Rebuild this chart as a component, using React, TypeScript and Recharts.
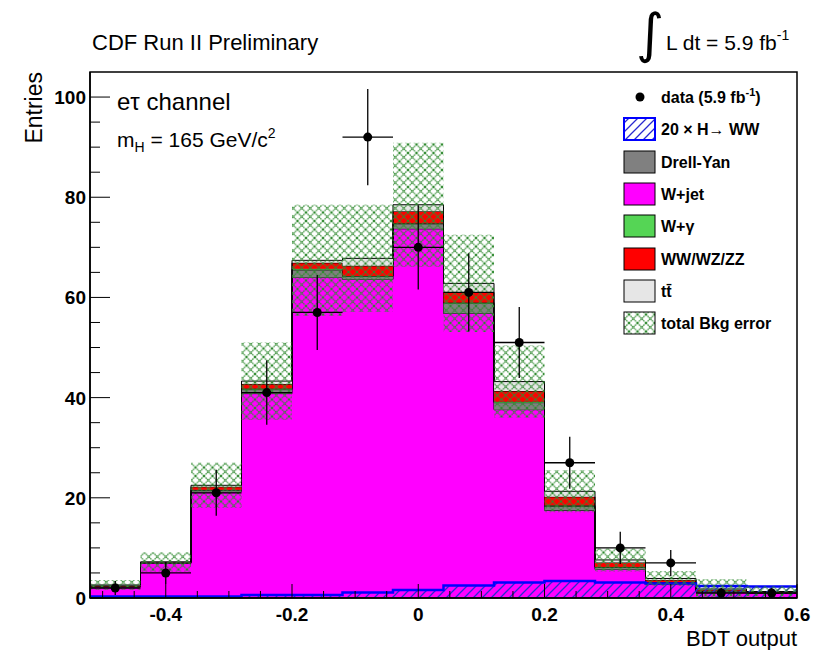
import { ComposedChart, Area, Scatter, ErrorBar, XAxis, YAxis, ReferenceArea } from "recharts";

// BDT output binning (14 bins of 0.08)
const binEdges = [-0.52, -0.44, -0.36, -0.28, -0.2, -0.12, -0.04, 0.04, 0.12, 0.2, 0.28, 0.36, 0.44, 0.52, 0.6];
const binCenters = [-0.48, -0.4, -0.32, -0.24, -0.16, -0.08, 0, 0.08, 0.16, 0.24, 0.32, 0.4, 0.48, 0.56];

// stacked backgrounds, bottom to top
const wjet = [2.2, 6.9, 21.2, 40.8, 64.0, 63.6, 73.7, 56.8, 37.6, 17.5, 5.7, 2.8, 1.2, 0.9];
const drellYan = [0.1, 0.1, 0.3, 0.8, 1.5, 0.6, 1.0, 2.0, 1.4, 0.8, 0.4, 0.3, 0.2, 0.1];
const wgamma = [0.05, 0.05, 0.1, 0.2, 0.2, 0.1, 0.1, 0.2, 0.2, 0.2, 0.1, 0.05, 0.05, 0.05];
const diboson = [0.15, 0.1, 0.6, 0.9, 1.2, 2.0, 2.4, 2.0, 2.1, 1.7, 0.9, 0.45, 0.2, 0.15];
const ttbar = [0.1, 0.05, 0.3, 0.6, 0.5, 1.5, 1.3, 1.8, 1.9, 1.1, 0.5, 0.3, 0.15, 0.1];
const bkgErr = [1.0, 1.9, 4.5, 7.7, 11.1, 10.7, 12.4, 9.7, 7.2, 4.2, 2.3, 1.5, 2.0, 1.0];

// 20 x H->WW, not stacked
const signal = [0.3, 0.3, 0.3, 0.6, 0.6, 1.1, 1.6, 2.5, 3.1, 3.4, 3.1, 2.9, 2.4, 2.3];

// data
const dataVals = [2, 5, 21, 41, 57, 92, 70, 61, 51, 27, 10, 7, 1, 1];
const dataErr = [1.4, 2.2, 4.6, 6.4, 7.5, 9.6, 8.4, 7.8, 7.1, 5.2, 3.2, 2.6, 1.0, 1.0];

const xTicks = [-0.5, -0.45, -0.4, -0.35, -0.3, -0.25, -0.2, -0.15, -0.1, -0.05, 0, 0.05, 0.1, 0.15, 0.2, 0.25, 0.3, 0.35, 0.4, 0.45, 0.5, 0.55, 0.6];
const xMajor = [-0.4, -0.2, 0, 0.2, 0.4, 0.6];
const yTicks = [0, 5, 10, 15, 20, 25, 30, 35, 40, 45, 50, 55, 60, 65, 70, 75, 80, 85, 90, 95, 100];
const yMajor = [0, 20, 40, 60, 80, 100];

const legendItems = ["data", "20 × H→ WW", "Drell-Yan", "W+jet", "W+γ", "WW/WZ/ZZ", "tt̄", "total Bkg error"];

const histRows = binEdges.map((x, i) => {
    const j = Math.min(i, binCenters.length - 1);
    const total = wjet[j] + drellYan[j] + wgamma[j] + diboson[j] + ttbar[j];
    return {
        x,
        wjet: wjet[j],
        dy: drellYan[j],
        wg: wgamma[j],
        vv: diboson[j],
        tt: ttbar[j],
        sig: signal[j],
        band: [Math.max(0, total - bkgErr[j]), total + bkgErr[j]],
    };
});

const points = binCenters.map((x, i) => ({
    x,
    y: dataVals[i],
    ey: dataErr[i],
    ex: (binEdges[i + 1] - binEdges[i]) / 2,
}));

const FONT = "'Liberation Sans', Arial, sans-serif";
const isIn = (arr: number[], v: number) => arr.some((m) => Math.abs(m - v) < 1e-6);

function XTick({ x, y, payload }: any) {
    const major = isIn(xMajor, payload.value);
    return (
        <g>
            <line x1={x} y1={y} x2={x} y2={y - (major ? 14 : 7)} stroke="#000" strokeWidth={1} />
            {major && (
                <text x={x} y={y + 23} textAnchor="middle" fontFamily={FONT} fontWeight="bold" fontSize={19} fill="#000">
                    {String(payload.value)}
                </text>
            )}
        </g>
    );
}

function YTick({ x, y, payload }: any) {
    const major = isIn(yMajor, payload.value);
    return (
        <g>
            <line x1={x} y1={y} x2={x + (major ? 20 : 10)} y2={y} stroke="#000" strokeWidth={1} />
            {major && (
                <text x={x - 4} y={y + 7} textAnchor="end" fontFamily={FONT} fontWeight="bold" fontSize={19} fill="#000">
                    {payload.value}
                </text>
            )}
        </g>
    );
}

function Patterns({ prefix }: { prefix: string }) {
    return (
        <defs>
            <pattern id={prefix + "err"} width={8.5} height={8.5} patternUnits="userSpaceOnUse">
                <path d="M0,0 L8.5,8.5 M8.5,0 L0,8.5" stroke="#2f8a2f" strokeWidth={1.2} strokeDasharray="1.5 0.6" fill="none" />
            </pattern>
            <pattern id={prefix + "sig"} width={9} height={9} patternUnits="userSpaceOnUse">
                <path d="M0,9 L9,0 M-2,2 L2,-2 M7,11 L11,7" stroke="#2a2ad0" strokeWidth={1.3} fill="none" />
            </pattern>
        </defs>
    );
}

function LegendBox() {
    const rowY = [97, 129, 162, 194, 226, 259, 291, 323];
    const fills = ["", "", "#808080", "#ff00ff", "#55d555", "#ff0000", "#e6e6e6", ""];
    return (
        <g fontFamily={FONT} fontWeight="bold" fontSize={16}>
            <rect x={603} y={80} width={191} height={260} fill="#fff" />
            {legendItems.map((label, i) => {
                const cy = rowY[i];
                let marker;
                if (i === 0) marker = <circle cx={640} cy={cy} r={4.5} fill="#000" />;
                else if (i === 1)
                    marker = (
                        <g>
                            <rect x={624} y={cy - 11} width={31} height={22} fill="#fff" />
                            <rect x={624} y={cy - 11} width={31} height={22} fill="url(#lgsig)" stroke="#0000ff" strokeWidth={2} />
                        </g>
                    );
                else if (i === 7)
                    marker = <rect x={624} y={cy - 11} width={31} height={22} fill="url(#lgerr)" stroke="#000" strokeWidth={1} />;
                else marker = <rect x={624} y={cy - 11} width={31} height={22} fill={fills[i]} stroke="#000" strokeWidth={1} />;
                return (
                    <g key={i}>
                        {marker}
                        {i === 0 ? (
                            <text x={661} y={cy + 6}>
                                data (5.9 fb
                                <tspan fontSize={11} dy={-7}>-1</tspan>
                                <tspan dy={7}>)</tspan>
                            </text>
                        ) : (
                            <text x={661} y={cy + 6}>
                                {label}
                            </text>
                        )}
                    </g>
                );
            })}
        </g>
    );
}

export default function App() {
    return (
        <div style={{ position: "absolute", left: 0, top: 0, width: 816, height: 650, background: "#fff" }}>
            <ComposedChart width={816} height={650} data={histRows} margin={{ top: 72, right: 19, bottom: 22, left: 40 }}>
                <Patterns prefix="p" />
                <XAxis
                    type="number"
                    dataKey="x"
                    domain={[-0.52, 0.6]}
                    allowDataOverflow
                    ticks={xTicks}
                    interval={0}
                    tickSize={0}
                    tickMargin={0}
                    tick={XTick}
                    height={30}
                    axisLine={{ stroke: "#000", strokeWidth: 1.5 }}
                />
                <YAxis
                    type="number"
                    domain={[0, 105]}
                    allowDataOverflow
                    ticks={yTicks}
                    interval={0}
                    tickSize={0}
                    tickMargin={0}
                    tick={YTick}
                    width={50}
                    axisLine={{ stroke: "#000", strokeWidth: 1.5 }}
                />
                <Area type="stepAfter" dataKey="wjet" stackId="bkg" fill="#ff00ff" fillOpacity={1} stroke="#000" strokeWidth={1} isAnimationActive={false} dot={false} activeDot={false} />
                <Area type="stepAfter" dataKey="dy" stackId="bkg" fill="#808080" fillOpacity={1} stroke="#000" strokeWidth={1} isAnimationActive={false} dot={false} activeDot={false} />
                <Area type="stepAfter" dataKey="wg" stackId="bkg" fill="#55d555" fillOpacity={1} stroke="#000" strokeWidth={0.8} isAnimationActive={false} dot={false} activeDot={false} />
                <Area type="stepAfter" dataKey="vv" stackId="bkg" fill="#ff0000" fillOpacity={1} stroke="#000" strokeWidth={1} isAnimationActive={false} dot={false} activeDot={false} />
                <Area type="stepAfter" dataKey="tt" stackId="bkg" fill="#e6e6e6" fillOpacity={1} stroke="#000" strokeWidth={1} isAnimationActive={false} dot={false} activeDot={false} />
                <Area type="stepAfter" dataKey="sig" fill="url(#psig)" fillOpacity={1} stroke="#0000ff" strokeWidth={2.5} isAnimationActive={false} dot={false} activeDot={false} />
                <Area type="stepAfter" dataKey="band" fill="url(#perr)" fillOpacity={1} stroke="none" isAnimationActive={false} dot={false} activeDot={false} />
                <ReferenceArea x1={-0.52} x2={0.6} y1={0} y2={105} fill="none" stroke="#000" strokeWidth={1.5} />
                <Scatter
                    data={points}
                    dataKey="y"
                    isAnimationActive={false}
                    shape={(p: any) => <circle cx={p.cx} cy={p.cy} r={4.5} fill="#000" />}
                >
                    <ErrorBar dataKey="ey" direction="y" width={0} stroke="#000" strokeWidth={1.3} />
                    <ErrorBar dataKey="ex" direction="x" width={0} stroke="#000" strokeWidth={1.3} />
                </Scatter>
            </ComposedChart>
            <svg width={816} height={650} style={{ position: "absolute", left: 0, top: 0, pointerEvents: "none" }}>
                <Patterns prefix="lg" />
                <text x={92} y={50} fontFamily={FONT} fontSize={22} fill="#000">CDF Run II Preliminary</text>
                <text x={636} y={52} fontFamily="'DejaVu Sans', sans-serif" fontSize={54} fill="#000">∫</text>
                <text x={666} y={50} fontFamily={FONT} fontSize={21} fill="#000">
                    L dt = 5.9 fb
                    <tspan fontSize={14} dy={-10}>-1</tspan>
                </text>
                <text transform="translate(42,72) rotate(-90)" textAnchor="end" fontFamily={FONT} fontSize={23} fill="#000">Entries</text>
                <text x={797} y={646} textAnchor="end" fontFamily={FONT} fontSize={22} fill="#000">BDT output</text>
                <text x={117} y={110} fontFamily={FONT} fontSize={24} fill="#000">eτ channel</text>
                <text x={117} y={147} fontFamily={FONT} fontSize={21} fill="#000">
                    m<tspan fontSize={14} dy={5}>H</tspan>
                    <tspan dy={-5}> = 165 GeV/c</tspan>
                    <tspan fontSize={14} dy={-9}>2</tspan>
                </text>
                <LegendBox />
            </svg>
        </div>
    );
}
